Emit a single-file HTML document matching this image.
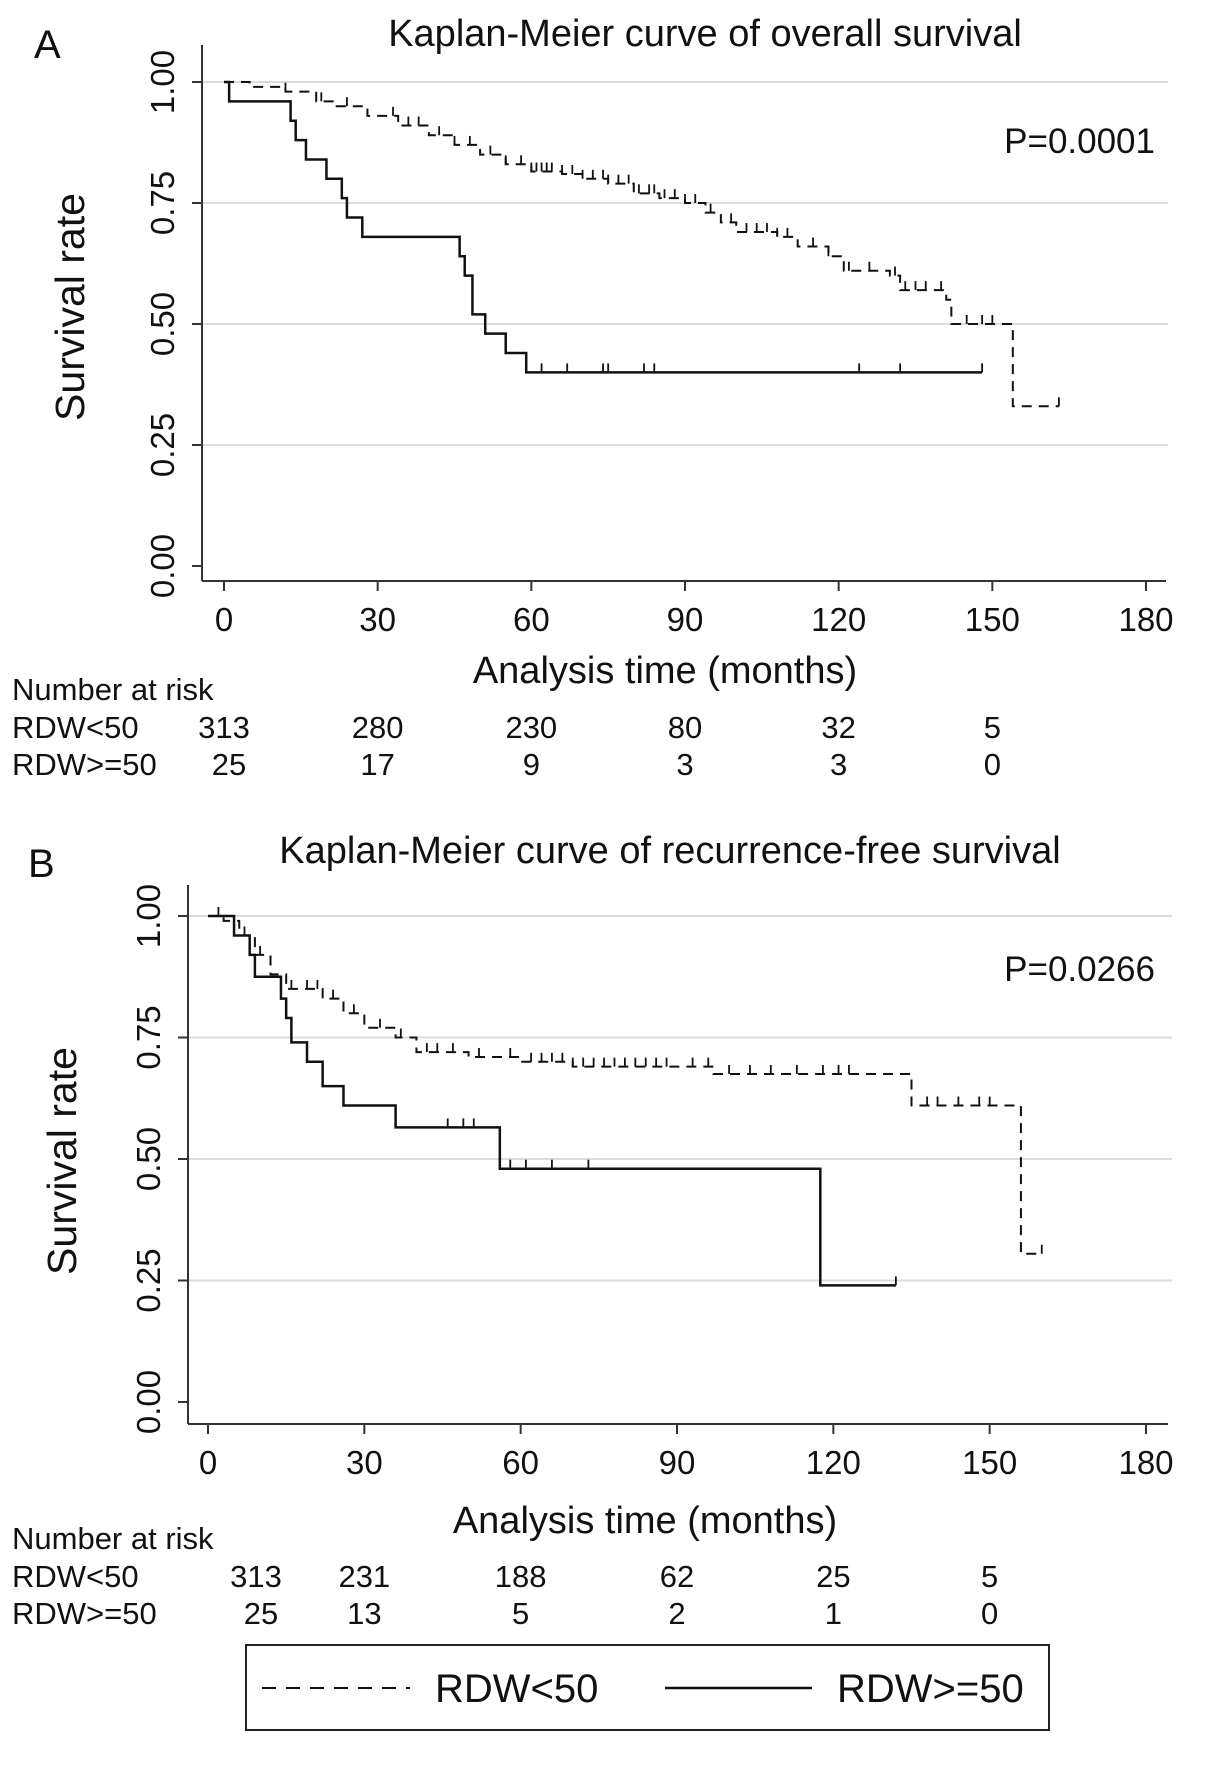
<!DOCTYPE html>
<html><head><meta charset="utf-8"><style>
body{margin:0;background:#fff;}
svg text{font-family:"Liberation Sans",sans-serif;fill:#111;}
</style></head><body>
<svg id="chart" width="1205" height="1772" viewBox="0 0 1205 1772" xmlns="http://www.w3.org/2000/svg"></svg>
<script>
const xTicks = [0,30,60,90,120,150,180];
const yTicks = [0,0.25,0.5,0.75,1.0];
const yTickLabels = ["0.00","0.25","0.50","0.75","1.00"];
const riskA_low = [313,280,230,80,32,5];
const riskA_high = [25,17,9,3,3,0];
const riskB_low = [313,231,188,62,25,5];
const riskB_high = [25,13,5,2,1,0];
const A_solid_t = [0,1,13,14,16,20,23,24,27,46,47,48.5,51,55,59];
const A_solid_s = [1,0.96,0.92,0.88,0.84,0.80,0.76,0.72,0.68,0.64,0.60,0.52,0.48,0.44,0.40];
const A_solid_end = 148;
const A_solid_cens = [62,67,74,75,82,84,124,132,148];
const A_dash_t = [0,5,12,18,22,28,34,40,45,50,55,60,66,70,75,80,85,90,94,97,100,108,112,118,121,130,132,141,142,154];
const A_dash_s = [1,0.99,0.98,0.96,0.95,0.93,0.91,0.89,0.87,0.85,0.83,0.815,0.81,0.80,0.79,0.77,0.76,0.75,0.73,0.71,0.69,0.68,0.66,0.64,0.61,0.60,0.57,0.55,0.50,0.33];
const A_dash_end = 163;
const A_dash_cens = [12,19,24,33,36,38,42,45,48,52,55,58,60,61,62,63,64,66,68,70,72,74,75,77,79,81,83,84,86,88,90,92,95,99,102,104,106,108,110,115,118,122,126,131,133,135,137,140,145,148,150,163];
const B_solid_t = [0,5,8,9,14,15,16,19,22,26,36,56,117.5];
const B_solid_s = [1,0.96,0.92,0.875,0.83,0.79,0.74,0.70,0.65,0.61,0.565,0.48,0.24];
const B_solid_end = 132;
const B_solid_cens = [46,49,51,58,61,66,73,132];
const B_dash_t = [0,3,6,9,12,15,22,26,30,36,40,50,60,70,97,135,156];
const B_dash_s = [1,0.99,0.96,0.92,0.88,0.85,0.83,0.80,0.77,0.75,0.72,0.71,0.70,0.69,0.675,0.61,0.305];
const B_dash_end = 160;
const B_dash_cens = [2,7,10,16,19,21,24,28,33,37,42,44,47,52,58,62,64,66,68,70,72,74,76,78,80,82,84,86,88,93,96,100,104,108,113,118,121,123,138,140,144,148,150,160];

const NS="http://www.w3.org/2000/svg";
const svg=document.getElementById('chart');
function el(tag,attrs,parent){const e=document.createElementNS(NS,tag);for(const k in attrs)e.setAttribute(k,attrs[k]);(parent||svg).appendChild(e);return e;}
function txt(s,x,y,size,anchor,parent,extra){const t=el('text',Object.assign({x:x,y:y,'font-size':size,'text-anchor':anchor||'start'},extra||{}),parent);t.textContent=s;return t;}

function panel(cfg){
  const g=el('g',{});
  
  
  const sx=t=>cfg.x0+(t/180)*(cfg.x180-cfg.x0);
  const Y=v=>cfg.y0-(v)*(cfg.y0-cfg.y1);
  yTicks.forEach((v,i)=>{
    if(v>0){const l=el('line',{x1:cfg.axX,x2:cfg.gridEnd,y1:Y(v),y2:Y(v),stroke:'#dcdcdc','stroke-width':2},g);
      
      }
    const tk=el('line',{x1:cfg.axX-10,x2:cfg.axX,y1:Y(v),y2:Y(v),stroke:'#333','stroke-width':2},g);
    
    
    const t=txt(yTickLabels[i],0,0,33,'middle',g,{transform:`translate(${cfg.axX-28},${Y(v)}) rotate(-90)`});
    
    
  });
  el('line',{x1:cfg.axX,x2:cfg.axX,y1:cfg.axTop,y2:cfg.axY,stroke:'#333','stroke-width':2},g);
  el('line',{x1:cfg.axX,x2:cfg.axRight,y1:cfg.axY,y2:cfg.axY,stroke:'#333','stroke-width':2},g);
  xTicks.forEach(t=>{
    const tk=el('line',{x1:sx(t),x2:sx(t),y1:cfg.axY,y2:cfg.axY+10,stroke:'#333','stroke-width':2},g);
    
    
    const lb=txt(String(t),sx(t),cfg.axY+50,33,'middle',g);
    
    
  });
  function curve(ts,ss,end,cens,dashed,nm){
    let d=`M${sx(ts[0])},${Y(ss[0])}`;
    for(let i=1;i<ts.length;i++){d+=` H${sx(ts[i])} V${Y(ss[i])}`;}
    d+=` H${sx(end)}`;
    const p=el('path',{d:d,fill:'none',stroke:'#111','stroke-width':dashed?2:2.5,'stroke-dasharray':dashed?'10,7':'none'},g);
    
    
    cens.forEach(c=>{
      let s=ss[0];for(let i=0;i<ts.length;i++){if(ts[i]<=c)s=ss[i];}
      const m=el('line',{x1:sx(c),x2:sx(c),y1:Y(s),y2:Y(s)-9,stroke:'#111','stroke-width':1.8},g);
      
      
    });
  }
  curve(cfg.dt,cfg.ds,cfg.dend,cfg.dc,true,'curve-rdw-low');
  curve(cfg.st,cfg.ss,cfg.send,cfg.sc,false,'curve-rdw-high');
  const lt=txt(cfg.letter,cfg.letterX,cfg.letterY,40,'start',g);
  const ti=txt(cfg.title,cfg.titleX,cfg.titleY,38,'middle',g);
  const pv=txt(cfg.p,1155,cfg.pY,35,'end',g);
  const yl=txt('Survival rate',0,0,41,'middle',g,{transform:`translate(${cfg.ylX},${cfg.ylY}) rotate(-90)`});
  const xl=txt('Analysis time (months)',cfg.xlX,cfg.xlY,38,'middle',g);
  const nr=txt('Number at risk',12,cfg.nrY,31,'start',g);
  txt('RDW<50',12,cfg.r1Y,31,'start',g);
  txt('RDW>=50',12,cfg.r2Y,31,'start',g);
  cfg.low.forEach((v,i)=>{const t=txt(String(v),sx(xTicks[i])+(i==0?cfg.r0off:0),cfg.r1Y,31,'middle',g);});
  cfg.high.forEach((v,i)=>{const t=txt(String(v),sx(xTicks[i])+(i==0?cfg.r0off+5:0),cfg.r2Y,31,'middle',g);});
}
panel({name:'panel-a-overall-survival',x0:224,x180:1146,y0:566,y1:82,axX:202,axTop:45,axY:581,axRight:1166,gridEnd:1168,
  dt:A_dash_t,ds:A_dash_s,dend:A_dash_end,dc:A_dash_cens,st:A_solid_t,ss:A_solid_s,send:A_solid_end,sc:A_solid_cens,
  letter:'A',letterX:34,letterY:58,title:'Kaplan-Meier curve of overall survival',titleX:705,titleY:46,p:'P=0.0001',pY:153,
  ylX:84,ylY:307,xlX:665,xlY:683,nrY:700,r1Y:738,r2Y:775,low:riskA_low,high:riskA_high,r0off:0});
panel({name:'panel-b-recurrence-free-survival',x0:208,x180:1146,y0:1402,y1:916,axX:188,axTop:885,axY:1424,axRight:1168,gridEnd:1172,
  dt:B_dash_t,ds:B_dash_s,dend:B_dash_end,dc:B_dash_cens,st:B_solid_t,ss:B_solid_s,send:B_solid_end,sc:B_solid_cens,
  letter:'B',letterX:28,letterY:877,title:'Kaplan-Meier curve of recurrence-free survival',titleX:670,titleY:863,p:'P=0.0266',pY:981,
  ylX:76,ylY:1161,xlX:645,xlY:1533,nrY:1549,r1Y:1587,r2Y:1624,low:riskB_low,high:riskB_high,r0off:48});
const lg=el('g',{});


el('rect',{x:246,y:1645,width:803,height:85,fill:'#fff',stroke:'#222','stroke-width':2},lg);
const l1=el('line',{x1:262,x2:410,y1:1688,y2:1688,stroke:'#111','stroke-width':2,'stroke-dasharray':'14,10'},lg);

const t1=txt('RDW<50',435,1702,40,'start',lg);
const l2=el('line',{x1:665,x2:812,y1:1688,y2:1688,stroke:'#111','stroke-width':2.5},lg);

const t2=txt('RDW>=50',837,1702,40,'start',lg);
</script>
</body></html>
